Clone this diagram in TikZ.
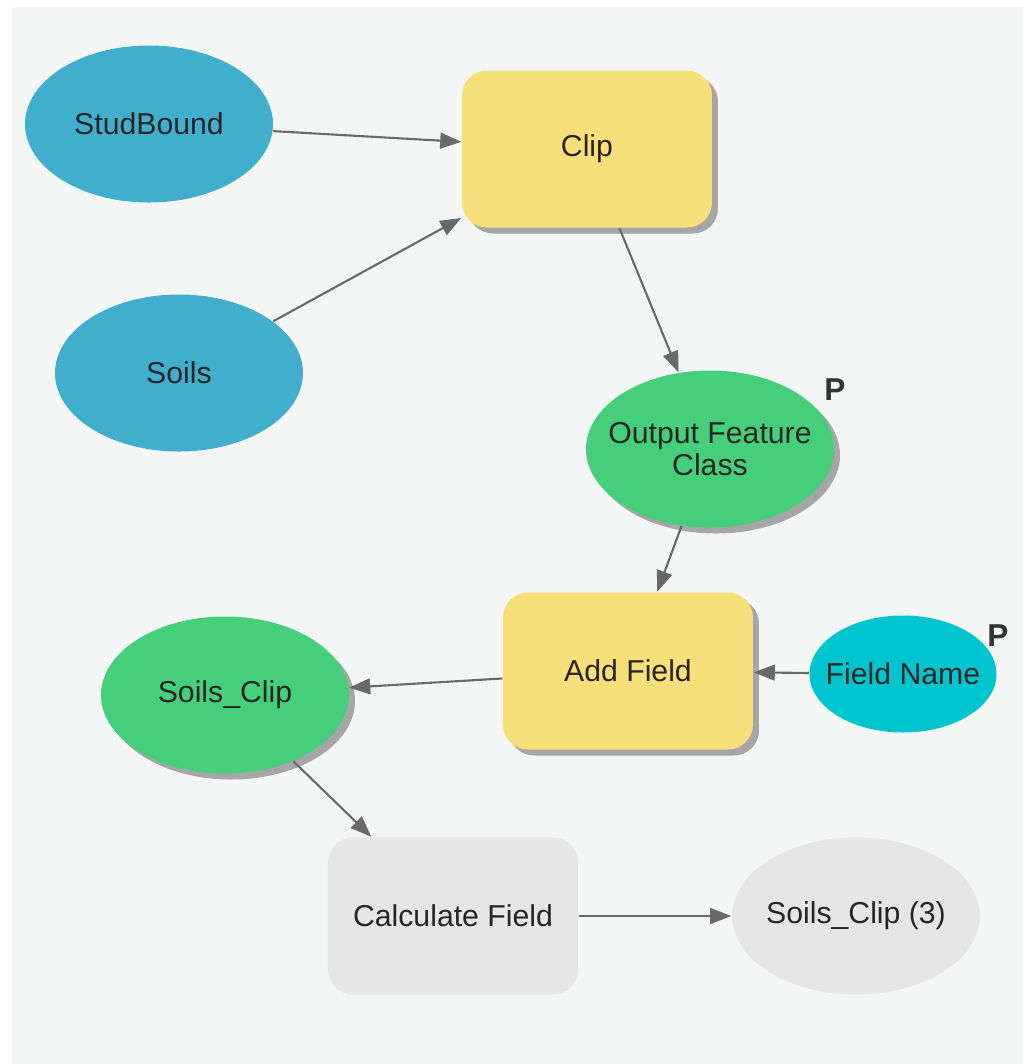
\documentclass[tikz,border=0pt]{standalone}
\usepackage{fontspec}
\setmainfont{Liberation Sans}
\usepackage{xcolor}
\usepackage{tikz}
\usetikzlibrary{arrows.meta,shapes,positioning,shadows}
\definecolor{inblue}{RGB}{64, 174, 204}
\definecolor{toolyellow}{RGB}{247, 224, 122}
\definecolor{outgreen}{RGB}{70, 207, 122}
\definecolor{parcyan}{RGB}{0, 197, 206}
\definecolor{idlegray}{RGB}{230, 230, 230}
\definecolor{canvas}{RGB}{244, 246, 246}
\definecolor{linkgray}{RGB}{105, 105, 105}

\tikzset{
    data/.style={ellipse, minimum width=2.48cm, minimum height=1.57cm, inner xsep=-0.2cm, inner ysep=0pt,
        align=center, text=black!85, font=\fontsize{8.6}{9}\selectfont},
    tool/.style={rectangle, rounded corners=0.25cm, minimum width=2.5cm, minimum height=1.57cm,
        align=center, text=black!85, font=\fontsize{8.6}{9}\selectfont},
    shade/.style={drop shadow={shadow xshift=0.06cm, shadow yshift=-0.06cm, fill=black!35, opacity=1}},
    plabel/.style={text=black!80, font=\fontsize{9}{9}\selectfont\bfseries},
    link/.style={draw=linkgray, line width=0.6pt, -{Triangle[length=6pt,width=4.5pt]}}
}

\begin{document}
\begin{tikzpicture}
            \useasboundingbox (0,0) rectangle (10.23,-10.64);
            \fill[canvas] (0.12,-0.07) rectangle (10.23,-10.64);

            % Inputs
            \node[data, fill=inblue] (studbound) at (1.49,-1.24) {StudBound};
            \node[data, fill=inblue] (soils) at (1.79,-3.73) {Soils};

            % Tools
            \node[tool, fill=toolyellow, shade] (clip) at (5.87,-1.49) {Clip};
            \node[tool, fill=toolyellow, shade] (addfield) at (6.28,-6.71) {Add Field};
            \node[tool, fill=idlegray] (calcfield) at (4.53,-9.16) {Calculate Field};

            % Outputs and parameters
            \node[data, fill=outgreen, shade] (outfc) at (7.10,-4.49) {Output Feature\\Class};
            \node[data, fill=parcyan, minimum width=1.87cm, minimum height=1.17cm] (fieldname) at (9.03,-6.74) {Field Name};
            \node[data, fill=outgreen, shade] (soilsclip) at (2.25,-6.95) {Soils\_Clip};
            \node[data, fill=idlegray] (soilsclipthree) at (8.56,-9.16) {Soils\_Clip (3)};

            \node[plabel] (poutfc) at (8.35,-3.90) {P};
            \node[plabel] (pfieldname) at (9.98,-6.36) {P};

            % Connectors
            \draw[link] (studbound) -- (clip);
            \draw[link] (soils) -- (clip);
            \draw[link] (clip) -- (outfc);
            \draw[link] (outfc) -- (addfield);
            \draw[link] (fieldname) -- (addfield);
            \draw[link] (addfield) -- (soilsclip);
            \draw[link] (soilsclip) -- (calcfield);
            \draw[link] (calcfield) -- (soilsclipthree);
        \end{tikzpicture}
\end{document}
